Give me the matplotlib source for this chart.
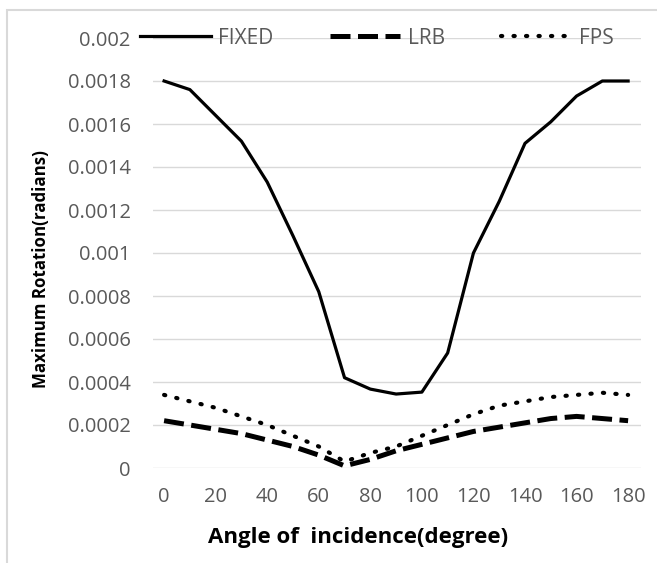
import matplotlib.pyplot as plt
from matplotlib.patches import Rectangle

angle = [0, 10, 20, 30, 40, 50, 60, 70, 80, 90, 100, 110, 120, 130, 140, 150, 160, 170, 180]
fixed = [0.00180, 0.00176, 0.00164, 0.00152, 0.00133, 0.00108, 0.00082, 0.00042, 0.000367, 0.000344,
         0.000353, 0.000535, 0.00100, 0.00124, 0.00151, 0.00161, 0.00173, 0.00180, 0.00180]
lrb = [0.00022, 0.00020, 0.00018, 0.00016, 0.00013, 0.00010, 0.00006, 0.00001, 0.00004, 0.00008,
       0.00011, 0.00014, 0.00017, 0.00019, 0.00021, 0.00023, 0.00024, 0.00023, 0.00022]
fps = [0.00034, 0.00031, 0.00028, 0.00024, 0.00020, 0.00015, 0.00010, 0.00003, 0.00007, 0.00010,
       0.00015, 0.00020, 0.00025, 0.00029, 0.00031, 0.00033, 0.00034, 0.00035, 0.00034]
yticks = [0, 0.0002, 0.0004, 0.0006, 0.0008, 0.001, 0.0012, 0.0014, 0.0016, 0.0018, 0.002]
ytick_labels = ["0", "0.0002", "0.0004", "0.0006", "0.0008", "0.001", "0.0012", "0.0014", "0.0016", "0.0018", "0.002"]
xticks = [0, 20, 40, 60, 80, 100, 120, 140, 160, 180]

plt.rcParams['font.family'] = ['Open Sans', 'DejaVu Sans']

W, H = 657, 563
fig = plt.figure(figsize=(W / 100, H / 100), dpi=100)
ax = fig.add_axes([153 / W, 1 - 468 / H, (641 - 153) / W, (468 - 38) / H])

# outer chart frame
fig.patches.append(Rectangle((7 / W, -0.1), 1.2, 1 - 10 / H + 0.1, transform=fig.transFigure,
                             fill=False, edgecolor="#d9d9d9", linewidth=1.5))

ax.plot(angle, fixed, color="black", linewidth=2.3, label="FIXED")
ax.plot(angle, lrb, color="black", linewidth=3.6, linestyle=(0, (4, 1.5)), label="LRB")
ax.plot(angle, fps, color="black", linewidth=3.0, linestyle=(0, (0.3, 2.7)),
        dash_capstyle="round", label="FPS")

ax.set_xlim(-4.3, 185)
ax.set_ylim(0, 0.002)
ax.set_xticks(xticks)
ax.set_yticks(yticks)
ax.set_yticklabels(ytick_labels)
ax.tick_params(length=0, labelsize=14.5, labelcolor="#595959")
ax.tick_params(axis="x", pad=14)
ax.tick_params(axis="y", pad=16)
ax.grid(axis="y", color="#d9d9d9", linewidth=1)
ax.set_axisbelow(True)
for s in ax.spines.values():
    s.set_visible(False)

ax.set_xlabel("Angle of  incidence(degree)", fontsize=16, fontweight="bold")
ax.xaxis.set_label_coords((358 - 153) / 488, -(537 - 468) / 430)
ax.xaxis.label.set_va("center")
ax.set_ylabel("Maximum Rotation(radians)", fontsize=12.2, fontweight="bold")
ax.yaxis.set_label_coords(-(153 - 50) / 488, (468 - 269) / 430)

leg = ax.legend(loc="center", bbox_to_anchor=(0.459, 1.0), ncol=3, frameon=False,
                handlelength=3.4, columnspacing=2.7, handletextpad=0.35, fontsize=15)
for t in leg.get_texts():
    t.set_color("#595959")

fig.savefig("out.png", dpi=100)
